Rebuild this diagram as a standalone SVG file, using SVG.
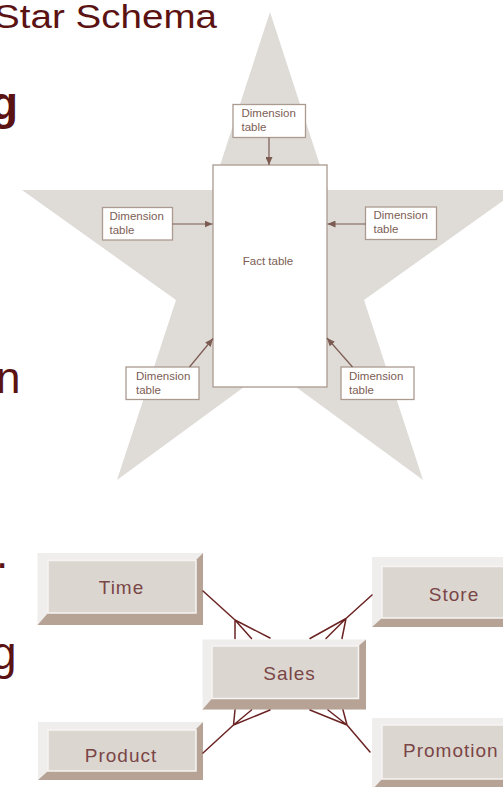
<svg xmlns="http://www.w3.org/2000/svg" width="503" height="787" viewBox="0 0 503 787">
<style>
.slide{font-family:"Liberation Sans",Arial,sans-serif;fill:#5b1212}
.dim{fill:#fff;stroke:#ab9a90;stroke-width:1.3}
.dt{font-family:"Liberation Sans",Arial,sans-serif;font-size:11.5px;fill:#7d5d55}
.arr{stroke:#7b5b52;stroke-width:1.2;fill:none;marker-end:url(#ah)}
.light{fill:#f0eeec}
.dark{fill:#b6a395}
.face{fill:#dcd6d1;stroke:#f6f4f2;stroke-width:1.5}
.et{font-family:"Liberation Sans",Arial,sans-serif;font-size:19px;letter-spacing:1px;fill:#7a4646}
.cf{stroke:#6b2424;stroke-width:1.5;fill:none;stroke-linecap:round}
</style>
<defs>
<marker id="ah" markerUnits="userSpaceOnUse" markerWidth="8" markerHeight="7" refX="8" refY="3.5" orient="auto">
<path d="M0,0 L8,3.5 L0,7 z" fill="#7b5b52"/>
</marker>
</defs>
<rect width="503" height="787" fill="#fff"/>

<!-- slide text fragments -->
<text class="slide" x="-6" y="28" font-size="33" textLength="223" lengthAdjust="spacingAndGlyphs">Star Schema</text>
<text class="slide" x="-10" y="119" font-size="46" font-weight="bold">g</text>
<text class="slide" x="-4" y="393" font-size="44">n</text>
<text class="slide" x="-4" y="568" font-size="44">.</text>
<text class="slide" x="-9" y="669" font-size="46">g</text>

<!-- star -->
<polygon id="star" points="270,12 328,190 518,190 364,300 423,480 270,368 117,480 176,300 22,190 212,190" fill="#dfdcd8"/>

<g id="fact">
<rect class="dim" x="213" y="165" width="114" height="222"/>
<text class="dt" x="268" y="265" text-anchor="middle">Fact table</text>
</g>
<g id="dim-top">
<rect class="dim" x="233" y="104.5" width="72.5" height="33"/>
<text class="dt" x="241.5" y="117">Dimension</text>
<text class="dt" x="241.5" y="131">table</text>
</g>
<g id="dim-left">
<rect class="dim" x="102.5" y="207.5" width="70" height="32.5"/>
<text class="dt" x="109.5" y="220">Dimension</text>
<text class="dt" x="109.5" y="234">table</text>
</g>
<g id="dim-right">
<rect class="dim" x="365.5" y="207" width="71" height="32.5"/>
<text class="dt" x="373.5" y="219">Dimension</text>
<text class="dt" x="373.5" y="233">table</text>
</g>
<g id="dim-bottom-left">
<rect class="dim" x="126" y="367" width="73" height="32.5"/>
<text class="dt" x="136" y="380">Dimension</text>
<text class="dt" x="136" y="394">table</text>
</g>
<g id="dim-bottom-right">
<rect class="dim" x="341" y="367" width="73" height="32.5"/>
<text class="dt" x="349" y="380">Dimension</text>
<text class="dt" x="349" y="394">table</text>
</g>

<g id="star-arrows">
<line class="arr" x1="269" y1="137.5" x2="269" y2="165"/>
<line class="arr" x1="172.5" y1="224" x2="212.5" y2="224"/>
<line class="arr" x1="365.5" y1="224" x2="327.5" y2="224"/>
<line class="arr" x1="189.5" y1="367" x2="213" y2="338.5"/>
<line class="arr" x1="352.5" y1="367" x2="327" y2="338"/>
</g>

<!-- ER diagram -->
<g id="time">
<rect class="light" x="37.5" y="553" width="165.5" height="72"/>
<polygon class="dark" points="203,553 203,625 37.5,625 48,613 196,613 196,560"/>
<rect class="face" x="48" y="560.5" width="148" height="52.5"/>
<text class="et" x="121.5" y="594" text-anchor="middle">Time</text>
</g>
<g id="store">
<rect class="light" x="372" y="557" width="168" height="70"/>
<polygon class="dark" points="540,557 540,627 372,627 382,618 532,618 532,566"/>
<rect class="face" x="382" y="566.5" width="150" height="51.5"/>
<text class="et" x="454" y="600.5" text-anchor="middle">Store</text>
</g>
<g id="sales">
<rect class="light" x="202.5" y="639.5" width="163.5" height="70"/>
<polygon class="dark" points="366,639.5 366,709.5 202.5,709.5 212,698.5 358.5,698.5 358.5,646"/>
<rect class="face" x="212" y="646" width="146.5" height="52.5"/>
<text class="et" x="289.5" y="679.5" text-anchor="middle">Sales</text>
</g>
<g id="product">
<rect class="light" x="38" y="722" width="165" height="58"/>
<polygon class="dark" points="203,722 203,780 38,780 48,771 196,771 196,729"/>
<rect class="face" x="48" y="730" width="148" height="41"/>
<text class="et" x="121" y="761.5" text-anchor="middle">Product</text>
</g>
<g id="promotion">
<rect class="light" x="372" y="718" width="168" height="72"/>
<polygon class="dark" points="540,718 540,790 372,790 382,779 532,779 532,725"/>
<rect class="face" x="382" y="725" width="150" height="54"/>
<text class="et" x="403" y="756.5">Promotion</text>
</g>

<g id="connectors">
<path class="cf" d="M203,591 L235,620 M235,620 L235,638.5 M235,620 L251.5,638.5 M235,620 L270,638"/>
<path class="cf" d="M372,595 L346,618.5 M346,618.5 L342,638.5 M346,618.5 L326,638.5 M346,618.5 L310,638.5"/>
<path class="cf" d="M203,753 L233.5,725 M233.5,725 L235,710 M233.5,725 L251.5,710 M233.5,725 L270,710"/>
<path class="cf" d="M370,752 L347,725 M347,725 L343,710 M347,725 L328,710 M347,725 L310,710"/>
</g>
</svg>
